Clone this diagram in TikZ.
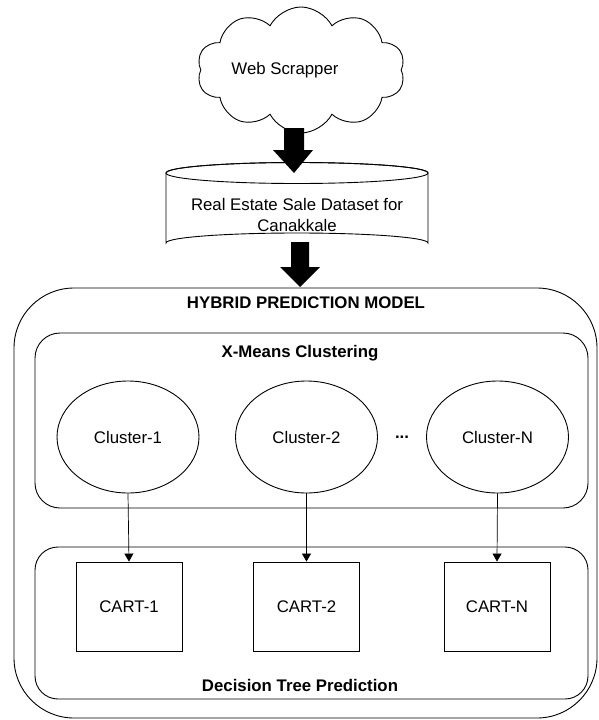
\documentclass[tikz,border=0pt]{standalone}
\usepackage{fontspec}
\setmainfont{Liberation Sans}
\usetikzlibrary{shapes.geometric,shapes.symbols,arrows.meta}

\tikzset{
  txt/.style={font=\fontsize{16.8}{21}\selectfont, inner sep=0pt, align=center},
  bold/.style={txt, font=\fontsize{16.8}{21}\selectfont\bfseries},
  frame/.style={draw, line width=0.9pt, inner sep=0pt},
  cluster/.style={frame, ellipse, minimum width=142pt, minimum height=112pt, font=\fontsize{16.8}{21}\selectfont},
  cartbox/.style={frame, rectangle, minimum width=106pt, minimum height=89pt, font=\fontsize{16.8}{21}\selectfont},
  link/.style={line width=0.7pt, -{Triangle[length=8pt,width=9pt]}},
  bigarrow/.style={fill=black}
}

\begin{document}
\begin{tikzpicture}[x=1pt,y=-1pt]
\useasboundingbox (0,0) rectangle (598,720);

% source: web scraper cloud
\node[cloud, draw, line width=0.9pt, cloud puffs=10, cloud puff arc=125, aspect=1.65,
      minimum width=208pt, minimum height=126pt, inner sep=0pt] (scraper) at (301,70) {};
\node[txt] (scrapertext) at (285,70) {Web Scrapper};

% dataset cylinder
\coordinate (cyltop) at (297,173);
\coordinate (cylbot) at (297,243);
\filldraw[fill=white, line width=0.9pt]
  (166,173) -- (166,243) arc[start angle=180, end angle=360, x radius=131, y radius=10]
  -- (428,173) arc[start angle=0, end angle=-180, x radius=131, y radius=10.5] -- cycle;
\draw[line width=0.9pt] (cyltop) ellipse[x radius=131, y radius=10.5];
\node[txt] (dataset) at (297,215) {Real Estate Sale Dataset for\\Canakkale};

% thick arrows
\coordinate (a1top) at (294,128);
\coordinate (a1tip) at (294,173);
\fill[bigarrow] (a1top) ++(-10,0) -- ++(20,0) -- ++(0,22) -- ++(9,0) -- (a1tip)
  -- ++(-21,-23) -- ++(11,0) -- cycle;
\coordinate (a2top) at (300,242);
\coordinate (a2tip) at (300,287);
\fill[bigarrow] (a2top) ++(-9,0) -- ++(18,0) -- ++(0,25) -- ++(11,0) -- (a2tip)
  -- ++(-20,-20) -- ++(11,0) -- cycle;

% hybrid model frame
\node[frame, rounded corners=60pt, minimum width=583pt, minimum height=430pt] (model) at (305.5,503) {};
\node[bold] (modeltitle) at (306,303) {HYBRID PREDICTION MODEL};

% clustering stage
\node[frame, rounded corners=25pt, minimum width=553pt, minimum height=175pt] (clustering) at (311.5,420.5) {};
\node[bold] (clustertitle) at (300,353) {X-Means Clustering};
\node[cluster] (c1) at (128,437) {Cluster-1};
\node[cluster] (c2) at (306.5,437) {Cluster-2};
\node[cluster] (cn) at (497.5,437) {Cluster-N};
\node[bold] (dots) at (402,437) {...};

% decision tree stage
\node[frame, rounded corners=23pt, minimum width=553pt, minimum height=152pt] (trees) at (311.5,623) {};
\node[bold] (treetitle) at (300,685) {Decision Tree Prediction};
\node[cartbox] (t1) at (129,606.5) {CART-1};
\node[cartbox] (t2) at (306.5,606.5) {CART-2};
\node[cartbox] (tn) at (497,606.5) {CART-N};

\draw[link] (c1.south) -- (t1.north);
\draw[link] (c2.south) -- (t2.north);
\draw[link] (cn.south) -- (tn.north);
\end{tikzpicture}
\end{document}
